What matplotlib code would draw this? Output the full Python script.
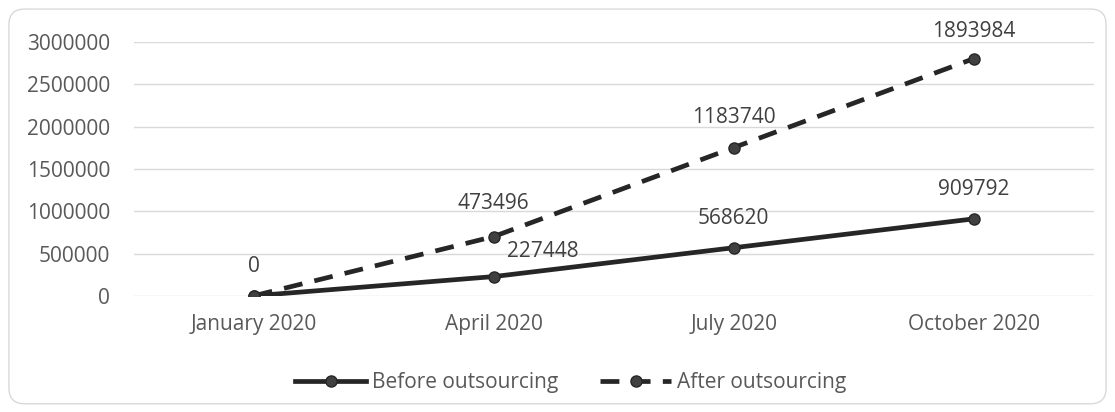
import matplotlib.pyplot as plt
from matplotlib.patches import FancyBboxPatch

# quarterly figures, the second series is stacked on the first
months = ['January 2020', 'April 2020', 'July 2020', 'October 2020']
before = [0, 227448, 568620, 909792]
after = [0, 473496, 1183740, 1893984]
yticks = [0, 500000, 1000000, 1500000, 2000000, 2500000, 3000000]

plt.rcParams['font.family'] = ['Open Sans', 'DejaVu Sans']
text_c = '#595959'
line_c = '#262626'
fs = 15

fig = plt.figure(figsize=(11.15, 4.12), dpi=100)

# rounded outer frame
frame = FancyBboxPatch((0.008, 0.02), 0.984, 0.958, boxstyle='round,pad=0,rounding_size=0.014',
                       transform=fig.transFigure, fc='white', ec='#d9d9d9', lw=1.0,
                       mutation_aspect=1115 / 412, zorder=-5)
fig.patches.append(frame)

ax = fig.add_axes([0.120, 0.282, 0.861, 0.616])
ax.patch.set_alpha(0)

x = list(range(len(months)))
stacked = [b + a for b, a in zip(before, after)]

ax.plot(x, before, color=line_c, lw=3.4, marker='o', ms=8, mfc='#404040', mec=line_c,
        mew=1, label='Before outsourcing', zorder=3)
ax.plot(x, stacked, color=line_c, lw=3.4, dashes=(4, 2.6), marker='o', ms=8, mfc='#404040',
        mec=line_c, mew=1, label='After outsourcing', zorder=3)

# data labels
for i, v in enumerate(before):
    dx, dy = (0, 21) if i != 1 else (35, 18)
    ax.annotate(str(v), (i, v), xytext=(dx, dy), textcoords='offset points',
                ha='center', va='center', fontsize=fs, color='#404040')
after_dy = [0, 24, 22, 19.5]
for i, v in enumerate(after):
    if i == 0:
        continue
    ax.annotate(str(v), (i, stacked[i]), xytext=(0, after_dy[i]), textcoords='offset points',
                ha='center', va='center', fontsize=fs, color='#404040')

ax.set_xlim(-0.5, 3.5)
ax.set_ylim(0, 3000000)
ax.set_xticks(x)
ax.set_xticklabels(months)
ax.set_yticks(yticks)
ax.set_yticklabels([str(t) for t in yticks])
ax.tick_params(axis='both', length=0, labelsize=fs, labelcolor=text_c)
ax.tick_params(axis='x', pad=13)
ax.tick_params(axis='y', pad=17)
ax.grid(axis='y', color='#d9d9d9', lw=1)
ax.set_axisbelow(True)
for s in ax.spines.values():
    s.set_visible(False)

fig.legend(loc='center', bbox_to_anchor=(0.512, 0.072), ncol=2, frameon=False,
           fontsize=fs, labelcolor=text_c, handlelength=3.4, columnspacing=2.0, handletextpad=0.3)

plt.savefig('out.png', dpi=100)
